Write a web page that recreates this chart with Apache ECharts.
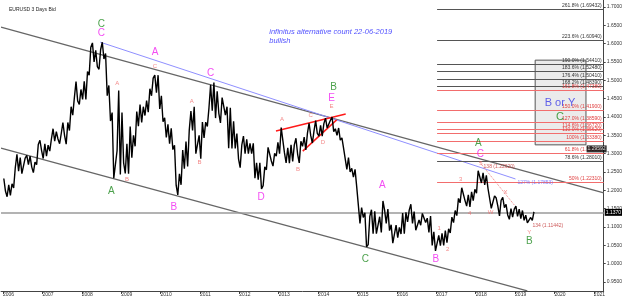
<!DOCTYPE html>
<html>
<head>
<meta charset="utf-8">
<script src="https://cdn.jsdelivr.net/npm/echarts@6/dist/echarts.min.js"></script>
<style>
html, body { margin: 0; padding: 0; background: #fff; }
#chart { width: 625px; height: 297px; }
</style>
</head>
<body>
<div id="chart"></div>
<script>
// EURUSD, monthly high / low, Jan 2006 .. Jun 2019
var startYear = 2006;
var monthHigh = [
    1.2323,1.2150,1.2180,1.2623,1.2980,1.2890,1.2880,1.2950,1.2930,1.2770,1.3250,1.3366,
    1.3270,1.3230,1.3400,1.3680,1.3600,1.3550,1.3850,1.3850,1.4280,1.4530,1.4967,1.4750,
    1.4970,1.5240,1.5900,1.6020,1.5820,1.5840,1.6038,1.5730,1.4860,1.4120,1.3080,1.4720,
    1.4120,1.3270,1.3740,1.3500,1.4150,1.4340,1.4280,1.4450,1.4770,1.5060,1.5140,1.5140,
    1.4580,1.3980,1.3800,1.3690,1.3230,1.2450,1.3100,1.3330,1.3650,1.4160,1.4280,1.3500,
    1.3860,1.3860,1.4250,1.4880,1.4940,1.4700,1.4530,1.4550,1.4280,1.4250,1.3880,1.3550,
    1.3230,1.3480,1.3390,1.3280,1.3280,1.2750,1.2750,1.2640,1.3170,1.3140,1.3010,1.3310,
    1.3710,1.3710,1.3160,1.3240,1.3240,1.3420,1.3340,1.3450,1.3560,1.3830,1.3620,1.3900,
    1.3770,1.3820,1.3970,1.3910,1.3995,1.3680,1.3700,1.3430,1.3180,1.2890,1.2600,1.2570,
    1.2100,1.1530,1.1390,1.1290,1.1470,1.1430,1.1280,1.1710,1.1460,1.1490,1.1060,1.1050,
    1.0990,1.1380,1.1400,1.1460,1.1620,1.1420,1.1190,1.1370,1.1330,1.1240,1.1300,1.0870,
    1.0770,1.0830,1.0900,1.0950,1.1270,1.1450,1.1780,1.2070,1.2090,1.1880,1.1960,1.2030,
    1.2535,1.2555,1.2475,1.2410,1.2100,1.1850,1.1790,1.1730,1.1810,1.1620,1.1500,1.1490,
    1.1570,1.1490,1.1450,1.1320,1.1260,1.1410
];
var monthLow = [
    1.1980,1.1825,1.1863,1.2067,1.2525,1.2456,1.2456,1.2700,1.2640,1.2483,1.2700,1.3090,
    1.2867,1.2930,1.3070,1.3340,1.3400,1.3270,1.3500,1.3260,1.3630,1.4050,1.4440,1.4340,
    1.4480,1.4480,1.5140,1.5500,1.5370,1.5300,1.5580,1.4580,1.3890,1.2330,1.2330,1.2430,
    1.2750,1.2460,1.2450,1.2890,1.3200,1.3750,1.3850,1.4040,1.4130,1.4580,1.4660,1.4220,
    1.3870,1.3440,1.3270,1.3110,1.2140,1.1875,1.2150,1.2590,1.2650,1.3630,1.3000,1.3000,
    1.2860,1.3430,1.3740,1.4170,1.3970,1.4100,1.3840,1.4050,1.3150,1.3140,1.3140,1.2860,
    1.2620,1.3000,1.3000,1.3000,1.2330,1.2290,1.2040,1.2130,1.2560,1.2800,1.2660,1.2930,
    1.3000,1.3020,1.2750,1.2740,1.2790,1.2990,1.2750,1.3200,1.3100,1.3490,1.3290,1.3550,
    1.3480,1.3480,1.3700,1.3670,1.3600,1.3500,1.3370,1.3150,1.2570,1.2500,1.2360,1.2100,
    1.1100,1.1260,1.0460,1.0520,1.0820,1.0820,1.0810,1.0850,1.1100,1.0900,1.0560,1.0520,
    1.0710,1.0810,1.0820,1.1140,1.1100,1.0910,1.0950,1.1050,1.1120,1.0850,1.0500,1.0350,
    1.0340,1.0490,1.0500,1.0570,1.0840,1.1120,1.1310,1.1660,1.1720,1.1570,1.1550,1.1720,
    1.1920,1.2200,1.2150,1.2050,1.1510,1.1510,1.1570,1.1300,1.1530,1.1330,1.1210,1.1270,
    1.1290,1.1230,1.1180,1.1110,1.1110,1.1180
];
var lastClose = 1.1370;

var yearTicks = [2006,2007,2008,2009,2010,2011,2012,2013,2014,2015,2016,2017,2018,2019,2020,2021];
var priceTicks = [0.95,1.00,1.05,1.10,1.15,1.20,1.25,1.30,1.35,1.40,1.45,1.50,1.55,1.60,1.65,1.70];

// trend lines [year, price]
var upperChannel = [[2005.95, 1.645], [2021.25, 1.193]];
var lowerChannel = [[2005.95, 1.315], [2019.31, 0.926]];
var blueLine = [[2008.47, 1.604], [2019.01, 1.231]];
var wedgeTop = [[2012.93, 1.362], [2014.70, 1.408]];
var wedgeBottom = [[2013.61, 1.307], [2014.47, 1.392]];
var waveDots = [[2018.10, 1.277], [2018.98, 1.160]];

// fibonacci levels
var fibStart = 2017.02;
var fibPrices = [1.694, 1.610, 1.544, 1.525, 1.504, 1.484, 1.474, 1.419, 1.386, 1.367, 1.356, 1.334, 1.302, 1.280, 1.223];
var fibNames = ['261.8% (1.69432)', '223.6% (1.60940)', '190.0% (1.54410)', '183.6% (1.52480)',
    '176.4% (1.50410)', '168.2% (1.48390)', '161.8% (1.47380)', '150.0% (1.41900)', '127.0% (1.38590)',
    '114.6% (1.36720)', '110.0% (1.35620)', '100% (1.33380)', '61.8% (1.30200)', '78.6% (1.28010)', '50% (1.22310)'];
var fibRed = [0,0,0,0,0,0,1,1,1,1,1,1,1,0,1];
var targetBox = [[2019.51, 1.555], [2020.80, 1.324]];

// wave labels [year, price, text]
var greenWaves = [[2008.50,1.654,'C'],[2014.39,1.482,'B'],[2008.75,1.198,'A'],[2015.20,1.013,'C'],
    [2018.07,1.329,'A'],[2019.36,1.062,'B']];
var magentaWaves = [[2008.50,1.629,'C'],[2009.86,1.577,'A'],[2011.27,1.520,'C'],[2014.34,1.452,'E'],
    [2012.55,1.182,'D'],[2015.63,1.214,'A'],[2010.34,1.154,'B'],[2016.99,1.013,'B'],[2018.12,1.299,'C']];
var subWaves = [[2009.86,1.539,'C'],[2014.34,1.430,'E'],[2008.90,1.493,'A'],[2013.08,1.394,'A'],
    [2013.81,1.405,'C'],[2014.12,1.332,'D'],[2013.49,1.258,'B'],[2010.79,1.444,'A'],[2010.99,1.277,'B'],
    [2009.15,1.231,'B'],[2017.29,1.040,'2'],[2017.07,1.097,'1'],[2017.85,1.138,'4'],[2017.62,1.231,'3'],
    [2018.38,1.141,'W'],[2018.76,1.195,'X'],[2018.13,1.274,'5'],[2019.36,1.086,'Y']];
var boxBlue = [[2020.14,1.438,'B or Y']];
var boxGreen = [[2020.14,1.400,'C']];
var redNotes = [[2019.44,1.103,'134 (1.11442)'],[2018.20,1.264,'138 (1.22620)']];
var blueNotes = [[2019.06,1.220,'127% (1.17853)']];
var comment = [[2012.76,1.643,'infinitus alternative count 22-06-2019\nbullish']];
var priceTag = [[2021.07,1.313,'1.29592']];

var pricePts = [];
for (var i = 0; i < monthHigh.length; i++) {
    var t = startYear + i / 12;
    var mid = (monthHigh[i] + monthLow[i]) / 2;
    var next = i + 1 < monthHigh.length ? (monthHigh[i + 1] + monthLow[i + 1]) / 2 : mid;
    var up = next >= mid;
    pricePts.push([t + 0.25 / 12, up ? monthLow[i] : monthHigh[i]]);
    pricePts.push([t + 0.75 / 12, up ? monthHigh[i] : monthLow[i]]);
}
pricePts.push([startYear + monthHigh.length / 12 - 0.03, lastClose]);

var FONT = 'Liberation Sans';

function seg(pts, color, width, type) {
    return {
        type: 'line', data: pts, symbol: 'none', silent: true, z: 3,
        lineStyle: {color: color, width: width, type: type || 'solid'}
    };
}

function texts(data, color, size, opts) {
    opts = opts || {};
    return {
        type: 'scatter', data: data, symbolSize: 1, silent: true, z: 10,
        itemStyle: {color: 'rgba(0,0,0,0)'},
        label: Object.assign({
            show: true, position: 'inside', color: color, fontSize: size, fontFamily: FONT,
            formatter: function (p) { return p.data[2]; }
        }, opts)
    };
}

var fibLines = fibPrices.map(function (p, k) {
    var c = fibRed[k] ? '#f26d6d' : '#555';
    return [
        {coord: [fibStart, p], lineStyle: {color: c, width: 1, type: 'solid'}, label: {color: fibRed[k] ? '#e04040' : '#333', formatter: fibNames[k]}},
        {coord: [2021.25, p]}
    ];
});

var chart = echarts.init(document.getElementById('chart'), null, {renderer: 'canvas'});

var option = {
    animation: false,
    backgroundColor: '#fff',
    title: {
        text: 'EURUSD 3 Days Bid', left: 4, top: 2,
        textStyle: {fontSize: 5, fontWeight: 'normal', color: '#222', fontFamily: FONT}
    },
    grid: {left: 0, right: 18, top: 0, bottom: 6},
    xAxis: {
        type: 'value', min: 2005.95, max: 2021.25,
        axisLine: {lineStyle: {color: '#444'}},
        axisTick: {customValues: yearTicks, length: 3, lineStyle: {color: '#444'}},
        axisLabel: {
            customValues: yearTicks, fontSize: 5, color: '#333', margin: 1, align: 'left',
            fontFamily: FONT, formatter: function (v) { return String(v); }
        },
        splitLine: {show: false}
    },
    yAxis: {
        type: 'value', position: 'right', min: 0.9255, max: 1.719,
        axisLine: {show: true, lineStyle: {color: '#444'}},
        axisTick: {show: true, customValues: priceTicks, length: 2, lineStyle: {color: '#444'}},
        axisLabel: {
            customValues: priceTicks, fontSize: 5, color: '#333', margin: 3, fontFamily: FONT,
            formatter: function (v) { return v.toFixed(4); }
        },
        splitLine: {show: false}
    },
    series: [
        {
            type: 'line', data: [], silent: true, z: 1,
            markArea: {
                silent: true,
                itemStyle: {color: '#ebebeb', borderColor: '#555', borderWidth: 1},
                data: [[{coord: targetBox[0]}, {coord: targetBox[1]}]]
            }
        },
        {
            type: 'line', data: [], silent: true, z: 2,
            markLine: {
                silent: true, symbol: 'none',
                lineStyle: {type: 'solid'},
                label: {show: true, position: 'insideEndTop', fontSize: 5, distance: [2, 1], fontFamily: FONT},
                data: fibLines
            }
        },
        {
            type: 'line', data: [], silent: true, z: 2,
            markLine: {
                silent: true, symbol: 'none',
                lineStyle: {color: '#9a9a9a', width: 1.5, type: 'solid'},
                label: {
                    show: true, position: 'end', formatter: lastClose.toFixed(4), fontSize: 5,
                    color: '#fff', backgroundColor: '#000', padding: [1, 1], distance: 1, fontFamily: FONT
                },
                data: [{yAxis: lastClose}]
            }
        },
        seg(upperChannel, '#666', 1.2),
        seg(lowerChannel, '#666', 1.2),
        seg(blueLine, '#8f8fff', 1),
        seg(wedgeTop, '#ff1a1a', 1.5),
        seg(wedgeBottom, '#ff1a1a', 1.5),
        seg(waveDots, '#f08080', 1, 'dotted'),
        {
            type: 'line', data: pricePts, symbol: 'none', silent: true, z: 5,
            lineStyle: {color: '#000', width: 1.4}
        },
        texts(greenWaves, '#1f8a1f', 10),
        texts(magentaWaves, '#f020f0', 10),
        texts(subWaves, '#f06a6a', 6),
        texts(boxBlue, '#3a3ae8', 11),
        texts(boxGreen, '#1f8a1f', 11),
        texts(redNotes, '#c03030', 5, {align: 'left'}),
        texts(blueNotes, '#6a6aff', 5, {align: 'left'}),
        texts(comment, '#2424ff', 7.5, {align: 'left', verticalAlign: 'top', fontStyle: 'italic', lineHeight: 9}),
        texts(priceTag, '#fff', 5, {backgroundColor: '#000', padding: [1, 1]})
    ]
};

chart.setOption(option);
</script>
</body>
</html>
